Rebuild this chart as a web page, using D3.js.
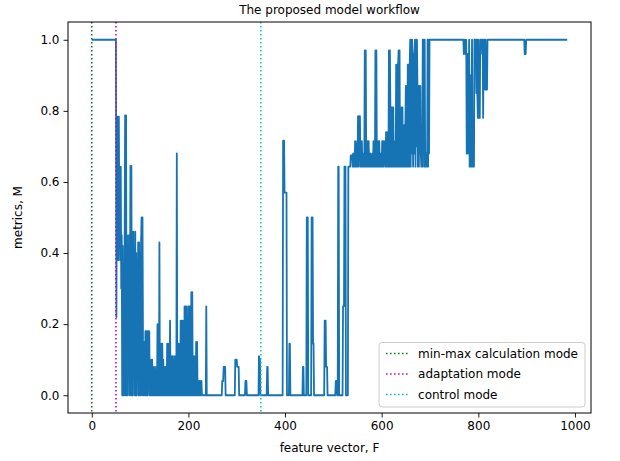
<!DOCTYPE html>
<html>
<head>
<meta charset="utf-8">
<script src="https://cdn.jsdelivr.net/npm/d3@7"></script>
<style>
  body { margin: 0; background: #fff; }
  svg text { font-family: "DejaVu Sans", sans-serif; fill: #000; }
</style>
</head>
<body>
<div id="wrapper"></div>
<script>
// metric M along feature vector F, split by mode
const minMaxPhase = [[0,1],[50,1]];
const adaptationPhase = [
  [51,0.22],[52,0.784],[53,0.643],[54,0.784],[55,0.38],[56,0.784],[57,0.5],[58,0.643],[59,0.38],[60,0.643],[61,0.3],[62,0.45],
  [63,0],[64,0.42],[65,0],[66,0.3],[67,0],[68,0.42],[69,0.787],[70,0],[71,0.787],[72,0],[73,0.45],[74,0],[75,0.42],[76,0.1],[77,0.45],[78,0],[79,0.25],
  [80,0.645],[81,0],[82,0.645],[83,0],[84,0.46],[85,0],[86,0.46],[87,0.05],[88,0.4],[89,0],[90,0.46],[91,0],[92,0.4],[93,0],[94,0.38],[95,0.1],[96,0.43],[97,0],[98,0.43],[99,0],
  [100,0.4],[101,0],[102,0.43],[103,0.5],[104,0],[105,0.5],[106,0.15],[107,0],[108,0.15],[109,0.05],[110,0],[111,0.18],[112,0],[113,0.18],[114,0],[115,0.18],[116,0],[117,0.18],[118,0.05],[119,0.18],
  [120,0],[121,0.1],[122,0],[123,0.1],[124,0],[125,0.1],[126,0],[127,0.08],[128,0],[129,0.08],[130,0],[131,0.04],[132,0],[133,0.08],[134,0],[135,0],[136,0.2],[137,0],[138,0.2],[139,0],
  [140,0.43],[141,0],[142,0.145],[143,0],[144,0.145],[145,0],[146,0.145],[147,0],[148,0.1],[149,0],[150,0.08],[151,0],[152,0.08],[153,0],[154,0.08],[155,0],[156,0.145],[157,0],[158,0.145],[159,0],
  [160,0.08],[161,0],[162,0.21],[163,0],[164,0.11],[165,0],[166,0.11],[167,0],[168,0.11],[169,0],[170,0.08],[171,0],[172,0.11],[173,0],[174,0.04],[175,0],[176,0.68],[177,0],[178,0.08],[179,0],
  [180,0.145],[181,0],[182,0.11],[183,0],[184,0.21],[185,0],[186,0.21],[187,0],[188,0.21],[189,0],[190,0.21],[191,0],[192,0.25],[193,0],[194,0.25],[195,0],[196,0.25],[197,0],[198,0.08],[199,0],
  [200,0.25],[201,0],[202,0.25],[203,0],[204,0.25],[205,0],[206,0.29],[207,0],[208,0.29],[209,0],[210,0.11],[211,0],[212,0.11],[213,0],[214,0.04],[215,0],[216,0.15],[217,0],[218,0.15],[219,0],
  [220,0.04],[221,0],[222,0.04],[223,0],[224,0.04],[225,0],[227,0.04],[228,0],[236,0],[237,0.25],[238,0],
  [269,0],[270,0.04],[272,0.04],[273,0.08],[276,0.08],[277,0],[296,0],[297,0.1],[300,0.1],[301,0.08],[304,0.08],[305,0],
  [317,0],[318,0.04],[320,0.04],[321,0],[345,0],[346,0.11],[348,0.1],[349,0]
];
const controlPhase = [
  [362,0],[363,0.08],[364,0.08],[365,0],[395,0],[396,0.716],[398,0.716],[399,0.57],[403,0.57],[404,0],[408,0],[409,0.145],[410,0.145],[411,0],
  [436,0],[437,0.08],[438,0.08],[439,0],[444,0],[445,0.5],[447,0.5],[448,0],[454,0],[455,0.5],[457,0.5],[458,0.145],[459,0.145],[460,0],
  [481,0],[482,0.21],[484,0.21],[485,0.08],[487,0.08],[488,0],[504,0],[505,0.04],[507,0.04],[508,0],[509,0],[510,0.643],[511,0.643],[512,0],
  [519,0],[520,0.25],[522,0.25],[523,0.643],[525,0.643],[526,0],[530,0],[531,0.643],[535,0.643],[536,0.675],[539,0.675],
  [540,0.643],[541,0.68],[542,0.643],[543,0.68],[544,0.643],[545,0.715],[546,0.643],[547,0.68],[548,0.643],[549,0.715],
  [550,0.643],[551,0.785],[552,0.643],[553,0.785],[554,0.68],[555,0.785],[556,0.643],[557,0.715],[558,0.643],[559,0.715],
  [560,0.643],[561,0.68],[562,0.643],[563,0.68],[564,0.643],[565,0.97],[566,0.643],[567,0.97],[568,0.643],[569,0.715],
  [570,0.643],[571,0.715],[572,0.643],[573,0.715],[574,0.643],[575,0.68],[576,0.643],[577,0.68],[578,0.643],[579,0.675],
  [580,0.643],[581,0.68],[582,0.643],[583,0.715],[584,0.643],[585,0.715],[586,0.643],[587,0.97],[588,0.643],[589,0.97],
  [590,0.643],[591,0.715],[592,0.643],[593,0.715],[594,0.643],[595,0.715],[596,0.643],[597,0.68],[598,0.643],[599,0.68],
  [600,0.643],[601,0.715],[602,0.643],[603,0.715],[604,0.643],[605,0.715],[606,0.68],[607,0.715],[608,0.643],[609,0.74],
  [610,0.643],[611,0.74],[612,0.643],[613,0.74],[614,0.643],[615,0.97],[616,0.643],[617,0.97],[618,0.81],[619,0.643],
  [620,0.81],[621,0.643],[622,0.81],[623,0.643],[624,0.81],[625,0.643],[626,0.715],[627,0.643],[628,0.715],[629,0.643],
  [630,0.93],[631,0.643],[632,0.93],[633,0.643],[634,0.93],[635,0.97],[636,0.643],[637,0.97],[638,0.643],[639,0.81],
  [640,0.643],[641,0.81],[642,0.643],[643,0.81],[644,0.643],[645,0.76],[646,0.643],[647,0.76],[648,0.643],[649,0.76],
  [650,0.87],[651,0.643],[652,0.87],[653,0.643],[654,0.93],[655,0.643],[656,0.93],[657,0.643],[658,0.93],[659,1],
  [660,0.643],[661,1],[662,0.68],[663,1],[664,0.96],[665,0.643],[666,0.96],[667,0.68],[668,0.96],[669,1],
  [670,0.643],[671,1],[672,0.7],[673,1],[674,0.87],[675,0.643],[676,0.87],[677,0.643],[678,0.87],[679,0.68],
  [680,0.87],[681,0.68],[682,0.643],[683,0.68],[684,0.643],[685,1],[686,0.68],[687,1],[688,0.643],[689,1],
  [690,0.643],[691,0.643],[692,0.68],[693,0.643],[694,0.643],[695,1],[696,0.643],[697,1],[698,0.68],[699,1],
  [769,1],[770,0.96],[772,1],[773,0.96],[775,1],[776,0.68],[778,0.96],[779,0.68],[781,1],[782,0.643],[784,0.9],[785,0.643],
  [787,1],[788,0.643],[790,0.78],[791,0.643],[792,1],[795,1],[796,0.85],[797,1],[798,0.85],[799,0.78],[800,1],[801,0.78],
  [802,0.96],[803,0.78],[804,1],[807,1],[808,0.96],[809,1],[810,0.78],[811,1],[812,0.96],[813,1],[814,0.86],[815,1],
  [816,0.86],[817,0.96],[818,0.86],[819,1],[895,1],[896,0.96],[898,0.96],[899,1],[984,1]
];

const modeNames = ["min-max calculation mode", "adaptation mode", "control mode"];
const modeStarts = [0, 50, 350];
const modeColors = ["#008000", "#bf00bf", "#00bfbf"];

const xTicks = [0, 200, 400, 600, 800, 1000];
const yTicks = [0, 0.2, 0.4, 0.6, 0.8, 1.0];

const series = minMaxPhase.concat(adaptationPhase, controlPhase);

const dims = {
    width: 620,
    height: 461,
    margin: {top: 22, right: 29, bottom: 48, left: 68}
};
dims.boundedWidth = dims.width - dims.margin.left - dims.margin.right;
dims.boundedHeight = dims.height - dims.margin.top - dims.margin.bottom;

const svg = d3.select("#wrapper").append("svg")
    .attr("width", dims.width)
    .attr("height", dims.height);

const bounded = svg.append("g")
    .attr("transform", `translate(${dims.margin.left},${dims.margin.top})`);

// matplotlib style 5% padding on both axes
const xExt = d3.extent(series, d => d[0]);
const xPad = (xExt[1] - xExt[0]) * 0.05;
const xScale = d3.scaleLinear()
    .domain([xExt[0] - xPad, xExt[1] + xPad])
    .range([0, dims.boundedWidth]);

const yExt = d3.extent(series, d => d[1]);
const yPad = (yExt[1] - yExt[0]) * 0.05;
const yScale = d3.scaleLinear()
    .domain([yExt[0] - yPad, yExt[1] + yPad])
    .range([dims.boundedHeight, 0]);

bounded.append("clipPath").attr("id", "clip")
  .append("rect")
    .attr("width", dims.boundedWidth)
    .attr("height", dims.boundedHeight);

const line = d3.line()
    .x(d => xScale(d[0]))
    .y(d => yScale(d[1]));

bounded.append("path")
    .attr("clip-path", "url(#clip)")
    .attr("d", line(series))
    .attr("fill", "none")
    .attr("stroke", "#1673b4")
    .attr("stroke-width", 1.8)
    .attr("stroke-linejoin", "round");

// mode boundaries
bounded.selectAll(".mode")
    .data(modeStarts)
    .join("line")
    .attr("x1", d => xScale(d))
    .attr("x2", d => xScale(d))
    .attr("y1", 0)
    .attr("y2", dims.boundedHeight)
    .attr("stroke", (d, i) => modeColors[i])
    .attr("stroke-width", 1.5)
    .attr("stroke-dasharray", "1.5,2.5");

const xAxis = d3.axisBottom(xScale)
    .tickValues(xTicks)
    .tickFormat(d3.format("d"))
    .tickSize(4.5)
    .tickPadding(4);
const yAxis = d3.axisLeft(yScale)
    .tickValues(yTicks)
    .tickFormat(d3.format(".1f"))
    .tickSize(4.5)
    .tickPadding(4);

const gx = bounded.append("g")
    .attr("transform", `translate(0,${dims.boundedHeight})`)
    .call(xAxis);
const gy = bounded.append("g").call(yAxis);
[gx, gy].forEach(g => {
    g.select(".domain").remove();
    g.selectAll("text").style("font-size", "12px").style("font-family", "DejaVu Sans");
    g.selectAll("line").attr("stroke", "#000").attr("stroke-width", 0.9);
});

bounded.append("rect")
    .attr("width", dims.boundedWidth)
    .attr("height", dims.boundedHeight)
    .attr("fill", "none")
    .attr("stroke", "#000")
    .attr("stroke-width", 1);

svg.append("text")
    .attr("x", dims.margin.left + dims.boundedWidth / 2)
    .attr("y", 14)
    .attr("text-anchor", "middle")
    .style("font-size", "12px")
    .text("The proposed model workflow");

svg.append("text")
    .attr("x", dims.margin.left + dims.boundedWidth / 2)
    .attr("y", 452)
    .attr("text-anchor", "middle")
    .style("font-size", "12px")
    .text("feature vector, F");

svg.append("text")
    .attr("transform", `translate(22,${dims.margin.top + dims.boundedHeight / 2}) rotate(-90)`)
    .attr("text-anchor", "middle")
    .style("font-size", "12px")
    .text("metrics, M");

// legend, lower right
const legend = bounded.append("g");
const legendBox = legend.append("rect")
    .attr("fill", "#fff")
    .attr("fill-opacity", 0.8)
    .attr("stroke", "#cccccc")
    .attr("rx", 3);
const rows = legend.selectAll(".row")
    .data(modeNames)
    .join("g")
    .attr("transform", (d, i) => `translate(0,${i * 20.5})`);
rows.append("line")
    .attr("x1", 0).attr("x2", 24)
    .attr("stroke", (d, i) => modeColors[i])
    .attr("stroke-width", 1.5)
    .attr("stroke-dasharray", "1.5,2.5");
rows.append("text")
    .attr("x", 32)
    .attr("dy", "0.35em")
    .style("font-size", "12px")
    .text(d => d);
const lb = legend.node().getBBox();
const lw = lb.width + 14, lh = 3 * 20.5 + 3;
legendBox.attr("x", -7).attr("y", -11).attr("width", lw).attr("height", lh);
legend.attr("transform", `translate(${dims.boundedWidth - 6 - lw + 7},${dims.boundedHeight - 6 - lh + 11})`);
</script>
</body>
</html>
